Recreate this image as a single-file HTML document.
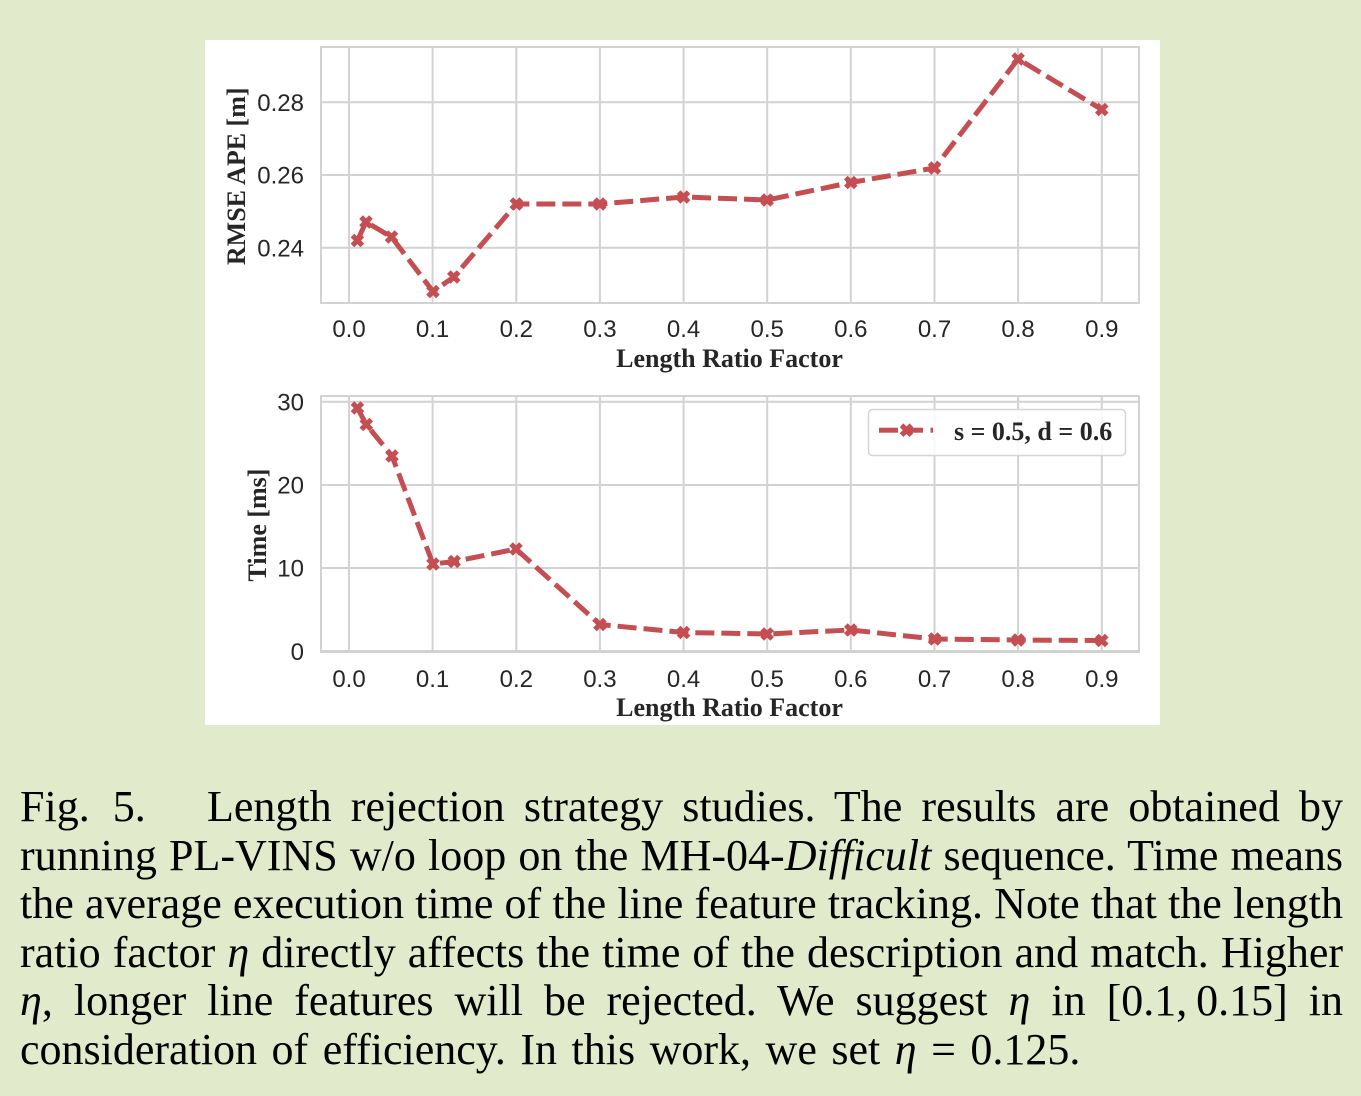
<!DOCTYPE html>
<html>
<head>
<meta charset="utf-8">
<style>
  html,body{margin:0;padding:0;}
  body{width:1361px;height:1096px;background:#e2eacc;position:relative;overflow:hidden;}
  svg{position:absolute;left:0;top:0;}
  .cap{position:absolute;font-family:"Liberation Serif",serif;font-size:44px;line-height:48.5px;height:48.5px;color:#000;white-space:nowrap;}
  .j{text-align:justify;text-align-last:justify;white-space:normal;}
  .ib{display:inline-block;}
  i{font-style:italic;}
</style>
</head>
<body>
<svg width="1361" height="1096" viewBox="0 0 1361 1096">
  <rect x="205" y="40" width="955" height="685" fill="#ffffff"/>
  <defs>
    <g id="mk">
      <rect x="-7" y="-2.6" width="14" height="5.2" transform="rotate(45)" fill="#c44e52"/>
      <rect x="-7" y="-2.6" width="14" height="5.2" transform="rotate(-45)" fill="#c44e52"/>
    </g>
  </defs>

  <!-- TOP PLOT -->
  <g stroke="#d2d2d2" stroke-width="2" fill="none">
    <line x1="349" y1="47" x2="349" y2="303"/>
    <line x1="432.6" y1="47" x2="432.6" y2="303"/>
    <line x1="516.3" y1="47" x2="516.3" y2="303"/>
    <line x1="599.9" y1="47" x2="599.9" y2="303"/>
    <line x1="683.6" y1="47" x2="683.6" y2="303"/>
    <line x1="767.2" y1="47" x2="767.2" y2="303"/>
    <line x1="850.8" y1="47" x2="850.8" y2="303"/>
    <line x1="934.5" y1="47" x2="934.5" y2="303"/>
    <line x1="1018.1" y1="47" x2="1018.1" y2="303"/>
    <line x1="1101.8" y1="47" x2="1101.8" y2="303"/>
    <line x1="321" y1="102.3" x2="1139" y2="102.3"/>
    <line x1="321" y1="175" x2="1139" y2="175"/>
    <line x1="321" y1="247.7" x2="1139" y2="247.7"/>
    <rect x="321" y="47" width="818" height="256"/>
  </g>
  <polyline fill="none" stroke="#c44e52" stroke-width="5" stroke-dasharray="19 7"
    points="357.4,240.5 366,222 391.5,237 433,291.5 453.8,277 516.3,204 599.9,204 683.6,197 767.2,200 850.8,182.5 934.5,168 1018.1,59 1101.8,109.5"/>
  <g>
    <use href="#mk" x="357.4" y="240.5"/>
    <use href="#mk" x="366" y="222"/>
    <use href="#mk" x="391.5" y="237"/>
    <use href="#mk" x="433" y="291.5"/>
    <use href="#mk" x="453.8" y="277"/>
    <use href="#mk" x="516.3" y="204"/>
    <use href="#mk" x="599.9" y="204"/>
    <use href="#mk" x="683.6" y="197"/>
    <use href="#mk" x="767.2" y="200"/>
    <use href="#mk" x="850.8" y="182.5"/>
    <use href="#mk" x="934.5" y="168"/>
    <use href="#mk" x="1018.1" y="59"/>
    <use href="#mk" x="1101.8" y="109.5"/>
  </g>
  <g font-family="Liberation Sans, sans-serif" font-size="24" fill="#262626">
    <g text-anchor="middle">
      <text x="349" y="337">0.0</text>
      <text x="432.6" y="337">0.1</text>
      <text x="516.3" y="337">0.2</text>
      <text x="599.9" y="337">0.3</text>
      <text x="683.6" y="337">0.4</text>
      <text x="767.2" y="337">0.5</text>
      <text x="850.8" y="337">0.6</text>
      <text x="934.5" y="337">0.7</text>
      <text x="1018.1" y="337">0.8</text>
      <text x="1101.8" y="337">0.9</text>
    </g>
    <g text-anchor="end">
      <text x="304" y="111">0.28</text>
      <text x="304" y="183.7">0.26</text>
      <text x="304" y="256.4">0.24</text>
    </g>
  </g>
  <g font-family="Liberation Serif, serif" font-weight="bold" font-size="26" fill="#262626">
    <text x="729.5" y="367" text-anchor="middle">Length Ratio Factor</text>
    <text transform="translate(245,176.3) rotate(-90)" text-anchor="middle">RMSE APE [m]</text>
  </g>

  <!-- BOTTOM PLOT -->
  <g stroke="#d2d2d2" stroke-width="2" fill="none">
    <line x1="349" y1="396" x2="349" y2="652"/>
    <line x1="432.6" y1="396" x2="432.6" y2="652"/>
    <line x1="516.3" y1="396" x2="516.3" y2="652"/>
    <line x1="599.9" y1="396" x2="599.9" y2="652"/>
    <line x1="683.6" y1="396" x2="683.6" y2="652"/>
    <line x1="767.2" y1="396" x2="767.2" y2="652"/>
    <line x1="850.8" y1="396" x2="850.8" y2="652"/>
    <line x1="934.5" y1="396" x2="934.5" y2="652"/>
    <line x1="1018.1" y1="396" x2="1018.1" y2="652"/>
    <line x1="1101.8" y1="396" x2="1101.8" y2="652"/>
    <line x1="321" y1="401.7" x2="1139" y2="401.7"/>
    <line x1="321" y1="485" x2="1139" y2="485"/>
    <line x1="321" y1="568" x2="1139" y2="568"/>
    <line x1="321" y1="651" x2="1139" y2="651"/>
    <rect x="321" y="396" width="818" height="256"/>
  </g>
  <polyline fill="none" stroke="#c44e52" stroke-width="5" stroke-dasharray="19 7"
    points="357.4,408 366.3,424.5 392,456 433,564 454.2,561.5 516,549 599.9,624.5 683.6,632.5 767.2,634 850.8,630 934.5,639 1018.1,640 1101.8,640.5"/>
  <g>
    <use href="#mk" x="357.4" y="408"/>
    <use href="#mk" x="366.3" y="424.5"/>
    <use href="#mk" x="392" y="456"/>
    <use href="#mk" x="433" y="564"/>
    <use href="#mk" x="454.2" y="561.5"/>
    <use href="#mk" x="516" y="549"/>
    <use href="#mk" x="599.9" y="624.5"/>
    <use href="#mk" x="683.6" y="632.5"/>
    <use href="#mk" x="767.2" y="634"/>
    <use href="#mk" x="850.8" y="630"/>
    <use href="#mk" x="934.5" y="639"/>
    <use href="#mk" x="1018.1" y="640"/>
    <use href="#mk" x="1101.8" y="640.5"/>
  </g>
  <g font-family="Liberation Sans, sans-serif" font-size="24" fill="#262626">
    <g text-anchor="middle">
      <text x="349" y="687">0.0</text>
      <text x="432.6" y="687">0.1</text>
      <text x="516.3" y="687">0.2</text>
      <text x="599.9" y="687">0.3</text>
      <text x="683.6" y="687">0.4</text>
      <text x="767.2" y="687">0.5</text>
      <text x="850.8" y="687">0.6</text>
      <text x="934.5" y="687">0.7</text>
      <text x="1018.1" y="687">0.8</text>
      <text x="1101.8" y="687">0.9</text>
    </g>
    <g text-anchor="end">
      <text x="304" y="410.4">30</text>
      <text x="304" y="493.6">20</text>
      <text x="304" y="576.7">10</text>
      <text x="304" y="660">0</text>
    </g>
  </g>
  <g font-family="Liberation Serif, serif" font-weight="bold" font-size="26" fill="#262626">
    <text x="729.5" y="716" text-anchor="middle">Length Ratio Factor</text>
    <text transform="translate(266,525) rotate(-90)" text-anchor="middle">Time [ms]</text>
  </g>

  <!-- LEGEND -->
  <rect x="868.5" y="409.5" width="257" height="46" rx="4" ry="4" fill="#ffffff" fill-opacity="0.85" stroke="#d6d6d6" stroke-width="1.5"/>
  <g fill="#c44e52">
    <rect x="879" y="427.7" width="19" height="5"/>
    <rect x="905" y="427.7" width="18" height="5"/>
    <rect x="930.5" y="427.7" width="2.5" height="5"/>
  </g>
  <use href="#mk" x="906.5" y="430.2"/>
  <text x="954" y="440" font-family="Liberation Serif, serif" font-weight="bold" font-size="26" fill="#262626">s = 0.5, d = 0.6</text>
</svg>

<div class="cap" style="left:20px;top:783px;word-spacing:12px;">Fig. 5.</div>
<div class="cap j" style="left:207px;top:783px;width:1136px;">Length rejection strategy studies. The results are obtained by</div>
<div class="cap j" style="left:20px;top:831.5px;width:1323px;">running PL-VINS w/o loop on the MH-04-<i>Difficult</i> sequence. Time means</div>
<div class="cap j" style="left:20px;top:880px;width:1323px;">the average execution time of the line feature tracking. Note that the length</div>
<div class="cap j" style="left:20px;top:928.5px;width:1323px;">ratio factor <i>η</i> directly affects the time of the description and match. Higher</div>
<div class="cap j" style="left:20px;top:977px;width:1323px;"><i>η</i>, longer line features will be rejected. We suggest <i>η</i> in <span class="ib">[0.1,&#8201;0.15]</span> in</div>
<div class="cap" style="left:20px;top:1025.5px;word-spacing:3.5px;">consideration of efficiency. In this work, we set <i>η</i> = 0.125.</div>
</body>
</html>
